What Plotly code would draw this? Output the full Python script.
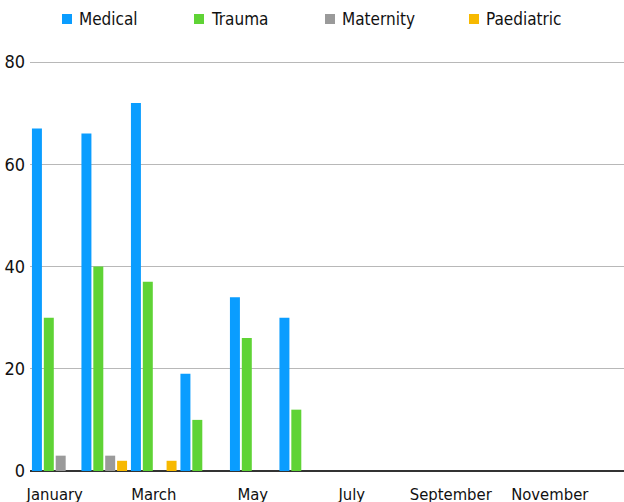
import plotly.graph_objects as go

months = ["January", "February", "March", "April", "May", "June",
          "July", "August", "September", "October", "November", "December"]
medical = [67, 66, 72, 19, 34, 30, None, None, None, None, None, None]
trauma = [30, 40, 37, 10, 26, 12, None, None, None, None, None, None]
maternity = [3, 3, 0, 0, 0, 0, None, None, None, None, None, None]
paediatric = [0, 2, 2, 0, 0, 0, None, None, None, None, None, None]
series_names = ["Medical", "Trauma", "Maternity", "Paediatric"]
colors = ["#0a9dff", "#5fd335", "#9a9a9a", "#f7b900"]
tick_months = ["January", "March", "May", "July", "September", "November"]
y_ticks = [0, 20, 40, 60, 80]

FONT = "DejaVu Sans Condensed, DejaVu Sans, sans-serif"
W, H = 624, 502
L, R, T, B = 30, 0, 60, 31
PW, PH = W - L - R, H - T - B

def px_x(x):
    return (x - L) / PW

def px_y(y):
    return (H - B - y) / PH

fig = go.Figure()
for name, vals, col in zip(series_names, [medical, trauma, maternity, paediatric], colors):
    fig.add_trace(go.Bar(x=months, y=vals, name=name, marker_color=col,
                         marker_line_width=0, showlegend=False))

# legend drawn as shapes + text annotations
legend_text_x = [77, 209, 340, 484]
for name, col, tx in zip(series_names, colors, legend_text_x):
    fig.add_shape(type="rect", xref="paper", yref="paper",
                  x0=px_x(tx - 15), x1=px_x(tx - 5), y0=px_y(24), y1=px_y(14),
                  fillcolor=col, line_width=0, layer="above")
    fig.add_annotation(text=name, xref="paper", yref="paper",
                       x=px_x(tx), y=px_y(19), xanchor="left", yanchor="middle",
                       showarrow=False, font=dict(family=FONT, size=17, color="#111"))

fig.update_layout(
    width=W, height=H,
    margin=dict(l=L, r=R, t=T, b=B, autoexpand=False),
    paper_bgcolor="white", plot_bgcolor="white",
    font=dict(family=FONT, size=17, color="#111"),
    barmode="group", bargap=0.04, bargroupgap=0.16,
    showlegend=False,
    xaxis=dict(type="category", categoryorder="array", categoryarray=months,
               tickmode="array", tickvals=tick_months, ticktext=tick_months,
               showgrid=False, ticks="", showline=False, automargin=False,
               ticklabelstandoff=11, tickfont=dict(size=16.5)),
    yaxis=dict(range=[0, 80.4], tickvals=y_ticks, showgrid=True,
               gridcolor="#b8b8b8", gridwidth=1, zeroline=True,
               zerolinecolor="#333", zerolinewidth=2, automargin=False,
               ticks="", showline=False, ticklabelstandoff=4, tickfont=dict(size=18)),
)
fig.write_html("out.html", config={"displayModeBar": False},
               post_script="document.body.style.margin='0';document.body.style.overflow='hidden';")
